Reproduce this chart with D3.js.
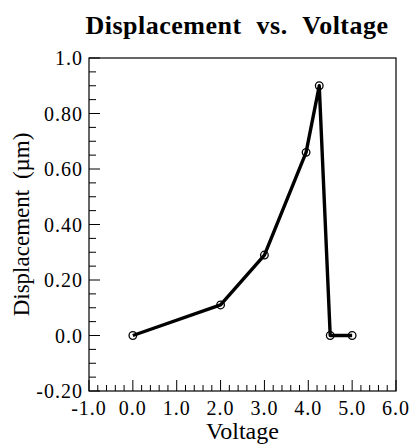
<!DOCTYPE html>
<html>
<head>
<meta charset="utf-8">
<script src="https://cdn.jsdelivr.net/npm/d3@7"></script>
<style>
  body { margin: 0; background: #fff; }
</style>
</head>
<body>
<div id="chart"></div>
<script>
const voltage = [0.0, 2.0, 3.0, 3.95, 4.25, 4.5, 5.0];
const displacement = [0.0, 0.11, 0.29, 0.66, 0.90, 0.0, 0.0];
const xTicks = [-1, 0, 1, 2, 3, 4, 5, 6];
const yTicks = [-0.2, 0.0, 0.2, 0.4, 0.6, 0.8, 1.0];
const yTickLabels = ['-0.20', '0.0', '0.20', '0.40', '0.60', '0.80', '1.0'];

const width = 413, height = 446;
const margin = { top: 58, right: 17, bottom: 55, left: 89 };
const serif = "'Liberation Serif', 'Times New Roman', Times, serif";

const svg = d3.select('#chart').append('svg')
  .attr('width', width)
  .attr('height', height);

const x = d3.scaleLinear().domain([-1, 6]).range([margin.left, width - margin.right]);
const y = d3.scaleLinear().domain([-0.2, 1.0]).range([height - margin.bottom, margin.top]);

// frame
svg.append('rect')
  .attr('x', x(-1)).attr('y', y(1))
  .attr('width', x(6) - x(-1)).attr('height', y(-0.2) - y(1))
  .attr('fill', 'none').attr('stroke', '#000').attr('stroke-width', 1.2);

// x axis: major ticks + minor ticks, pointing inward
const xMinor = d3.range(-1, 6.001, 0.2).filter((v) => Math.abs(v - Math.round(v)) > 1e-6);
const xAxis = svg.append('g').attr('transform', `translate(0,${y(-0.2)})`);
xAxis.selectAll('.minor').data(xMinor).enter().append('line')
  .attr('x1', (d) => x(d)).attr('x2', (d) => x(d))
  .attr('y1', 0).attr('y2', -6)
  .attr('stroke', '#000').attr('stroke-width', 1);
xAxis.selectAll('.major').data(xTicks).enter().append('line')
  .attr('x1', (d) => x(d)).attr('x2', (d) => x(d))
  .attr('y1', 0).attr('y2', -11)
  .attr('stroke', '#000').attr('stroke-width', 1);
xAxis.selectAll('.lbl').data(xTicks).enter().append('text')
  .attr('x', (d) => x(d)).attr('y', 24)
  .attr('text-anchor', 'middle')
  .style('font-family', serif)
  .style('font-size', '20px')
  .style('letter-spacing', '1px')
  .text((d) => d.toFixed(1));

// y axis
const yMinor = d3.range(-0.2, 1.0001, 0.05).filter((v) => Math.abs(v * 5 - Math.round(v * 5)) > 1e-6);
const yAxis = svg.append('g').attr('transform', `translate(${x(-1)},0)`);
yAxis.selectAll('.minor').data(yMinor).enter().append('line')
  .attr('y1', (d) => y(d)).attr('y2', (d) => y(d))
  .attr('x1', 0).attr('x2', 7)
  .attr('stroke', '#000').attr('stroke-width', 1);
yAxis.selectAll('.major').data(yTicks).enter().append('line')
  .attr('y1', (d) => y(d)).attr('y2', (d) => y(d))
  .attr('x1', 0).attr('x2', 11)
  .attr('stroke', '#000').attr('stroke-width', 1);
yAxis.selectAll('.lbl').data(yTicks).enter().append('text')
  .attr('x', -6).attr('y', (d) => y(d))
  .attr('dy', '0.35em')
  .attr('text-anchor', 'end')
  .style('font-family', serif)
  .style('font-size', '20px')
  .style('letter-spacing', '1px')
  .text((d, i) => yTickLabels[i]);

// data line
const points = voltage.map((v, i) => ({ v, d: displacement[i] }));
const line = d3.line().x((p) => x(p.v)).y((p) => y(p.d));
svg.append('path')
  .datum(points)
  .attr('d', line)
  .attr('fill', 'none')
  .attr('stroke', '#000')
  .attr('stroke-width', 3.4)
  .attr('stroke-linejoin', 'round');

svg.selectAll('.pt').data(points).enter().append('circle')
  .attr('cx', (p) => x(p.v)).attr('cy', (p) => y(p.d))
  .attr('r', 3.8)
  .attr('fill', 'none')
  .attr('stroke', '#000')
  .attr('stroke-width', 1.3);

// titles
svg.append('text')
  .attr('x', 237).attr('y', 34)
  .attr('text-anchor', 'middle')
  .style('font-family', serif)
  .style('font-size', '26px')
  .style('font-weight', 'bold')
  .style('letter-spacing', '0.5px')
  .style('word-spacing', '8px')
  .text('Displacement vs. Voltage');

svg.append('text')
  .attr('x', (x(-1) + x(6)) / 2).attr('y', 439)
  .attr('text-anchor', 'middle')
  .style('font-family', serif)
  .style('font-size', '24px')
  .text('Voltage');

svg.append('text')
  .attr('transform', `translate(29,${(y(1) + y(-0.2)) / 2}) rotate(-90)`)
  .attr('text-anchor', 'middle')
  .style('font-family', serif)
  .style('font-size', '23px')
  .style('word-spacing', '5px')
  .text('Displacement (\u00b5m)');
</script>
</body>
</html>
